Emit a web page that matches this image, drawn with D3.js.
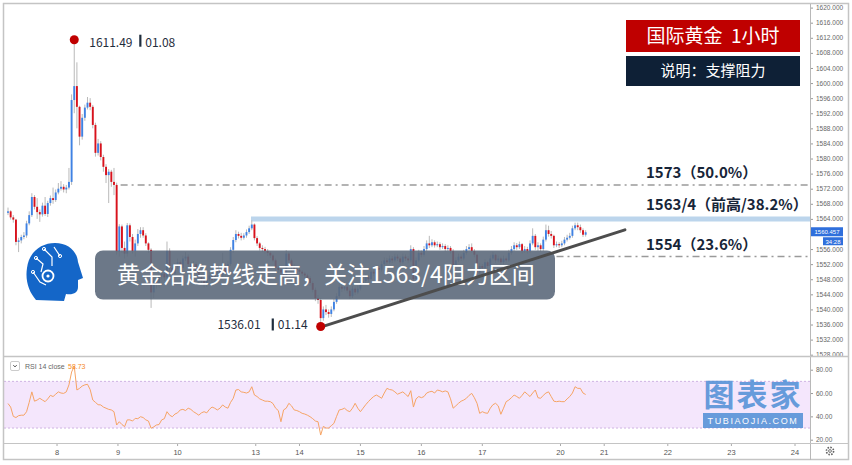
<!DOCTYPE html>
<html><head><meta charset="utf-8">
<script src="https://cdn.jsdelivr.net/npm/d3@7"></script>
<style>
html,body{margin:0;padding:0;background:#fff;}
svg{display:block;}
</style></head>
<body>
<svg id="c" width="852" height="465"></svg>
<script>
// ---------------- DATA ----------------
const dayLabels = ["8","9","10","13","14","15","16","17","20","21","22","23","24"];
const dayIndex  = [18.5,41.5,64,93.5,110,133,156,179,208.5,225,249,273,297];
const priceTicks = [1528,1532,1536,1540,1544,1548,1552,1556,1560,1564,1568,1572,1576,1580,1584,1588,1592,1596,1600,1604,1608,1612,1616,1620];
const rsiTicks = [20,40,60,80];
const firstOpen = 1565.6;
const closes = [
1566.0,1564.4,1563.8,1557.9,1558.3,1559.2,1559.6,1562.8,1565.0,1569.8,
1567.2,1565.8,1565.2,1567.5,1565.3,1568.2,1569.5,1569.0,1571.0,1572.0,
1572.5,1571.8,1572.3,1573.8,1595.5,1599.2,1593.7,1585.8,1590.8,1593.5,
1594.8,1593.7,1588.9,1581.5,1584.0,1580.4,1577.8,1575.6,1576.5,1573.8,
1573.0,1555.4,1562.0,1556.3,1554.8,1562.3,1559.2,1555.5,1557.5,1560.0,
1561.0,1559.6,1557.5,1555.8,1544.5,1547.5,1546.5,1549.0,1549.5,1548.5,
1555.5,1551.0,1549.5,1551.5,1552.5,1551.0,1553.5,1554.0,1552.0,1550.5,
1552.0,1550.0,1548.5,1547.5,1546.5,1548.0,1549.0,1547.8,1549.5,1550.5,
1549.0,1551.5,1549.5,1552.0,1555.8,1558.4,1560.0,1559.5,1559.0,1559.6,
1560.5,1561.5,1562.5,1558.9,1557.5,1556.3,1556.0,1555.5,1555.0,1554.3,
1553.0,1551.0,1550.5,1549.8,1549.0,1554.8,1553.0,1551.5,1550.8,1550.5,
1550.0,1549.5,1549.0,1548.3,1547.0,1545.2,1543.0,1542.5,1537.7,1540.0,
1539.3,1538.8,1540.0,1542.0,1543.5,1546.0,1545.5,1546.0,1545.0,1543.5,
1545.5,1544.5,1545.5,1547.0,1547.5,1548.5,1548.0,1550.0,1549.5,1551.0,
1550.5,1552.0,1553.0,1552.5,1553.5,1553.0,1554.0,1553.5,1552.5,1554.0,
1553.5,1553.0,1556.0,1548.0,1553.0,1555.0,1554.5,1556.0,1557.5,1557.0,
1557.8,1557.0,1557.3,1556.5,1556.8,1556.0,1556.3,1555.5,1551.7,1553.0,
1554.0,1553.5,1555.0,1556.0,1556.5,1555.5,1554.5,1549.8,1551.5,1551.0,
1552.5,1551.5,1553.5,1554.5,1553.0,1553.5,1552.5,1553.5,1553.0,1555.0,
1556.0,1557.0,1556.5,1557.3,1555.5,1556.0,1555.5,1557.5,1559.5,1556.5,
1557.0,1556.0,1558.5,1561.0,1560.0,1559.5,1557.0,1557.3,1557.0,1557.5,
1558.5,1559.0,1559.5,1561.5,1562.3,1561.8,1561.0,1559.8,1560.457];
const highs = [
1567.0,1566.3,1565.0,1564.0,1559.0,1559.8,1560.5,1563.5,1566.0,1570.8,
1570.3,1569.5,1566.5,1568.3,1569.8,1568.8,1570.2,1572.3,1571.8,1573.5,
1574.0,1573.2,1573.0,1577.5,1597.0,1611.49,1605.5,1594.0,1591.8,1594.3,
1596.3,1596.0,1594.2,1589.5,1585.2,1584.6,1581.0,1578.5,1577.2,1577.0,
1577.5,1573.6,1562.6,1562.5,1558.0,1562.9,1562.8,1560.0,1558.5,1561.3,
1561.8,1561.8,1560.2,1557.8,1556.2,1548.3,1548.0,1549.8,1550.3,1550.5,
1558.0,1556.2,1551.8,1552.3,1553.5,1553.0,1554.3,1555.2,1554.6,1552.6,
1552.8,1552.5,1550.6,1549.0,1548.2,1548.8,1549.9,1549.6,1550.3,1551.3,
1551.0,1555.0,1552.3,1552.8,1556.5,1559.2,1561.0,1560.6,1560.3,1560.2,
1561.2,1562.2,1563.6,1562.8,1559.4,1557.9,1557.0,1556.6,1556.0,1555.4,
1554.8,1553.5,1551.6,1551.0,1550.6,1555.7,1555.3,1553.5,1552.0,1551.4,
1551.0,1550.5,1550.0,1549.5,1548.8,1547.5,1545.8,1543.8,1543.0,1540.8,
1541.2,1540.0,1540.8,1542.8,1544.3,1547.0,1546.8,1547.3,1546.5,1545.6,
1546.2,1546.0,1546.3,1547.8,1548.5,1549.3,1549.2,1550.8,1550.6,1551.8,
1551.6,1552.8,1553.8,1553.7,1554.3,1554.2,1554.8,1554.6,1554.0,1554.8,
1554.6,1554.2,1557.0,1556.5,1553.8,1555.8,1555.6,1556.8,1558.3,1559.5,
1558.6,1558.3,1558.0,1557.8,1557.5,1557.3,1557.0,1556.8,1556.0,1553.8,
1554.8,1554.6,1555.8,1556.8,1557.3,1557.5,1556.0,1554.8,1552.3,1552.0,
1553.3,1552.8,1554.3,1555.3,1554.8,1554.3,1554.0,1554.3,1554.0,1555.8,
1556.8,1557.8,1557.6,1558.0,1557.6,1556.8,1556.6,1558.3,1561.5,1560.0,
1557.8,1557.5,1559.3,1562.5,1562.2,1560.8,1559.8,1558.0,1557.8,1558.2,
1559.2,1559.8,1560.3,1562.2,1563.0,1563.0,1562.5,1561.5,1561.0];
const lows = [
1565.0,1563.8,1563.0,1557.0,1555.2,1557.5,1558.6,1559.0,1562.3,1564.5,
1566.5,1564.0,1563.2,1564.6,1564.8,1564.5,1567.5,1568.0,1568.5,1570.5,
1571.5,1571.0,1570.8,1571.8,1573.0,1592.0,1588.0,1583.5,1585.0,1590.0,
1593.0,1592.8,1588.0,1580.5,1580.8,1579.5,1576.5,1573.5,1568.2,1572.5,
1570.3,1554.5,1554.0,1555.0,1553.5,1554.0,1558.0,1554.8,1554.0,1556.8,
1559.0,1559.0,1556.8,1555.0,1540.4,1543.0,1545.5,1545.8,1548.0,1547.5,
1548.0,1550.0,1548.5,1548.8,1550.8,1550.2,1550.5,1552.8,1551.2,1549.8,
1549.8,1549.2,1547.8,1546.5,1545.8,1545.9,1547.5,1547.0,1547.2,1549.0,
1548.3,1548.5,1548.8,1549.0,1551.5,1555.0,1557.8,1558.8,1558.3,1558.5,
1559.0,1560.0,1561.0,1558.3,1556.8,1555.6,1555.2,1554.8,1554.2,1553.6,
1552.5,1550.2,1549.6,1548.9,1548.2,1548.6,1552.2,1550.6,1550.0,1549.7,
1549.3,1548.8,1548.3,1547.6,1546.3,1544.5,1542.2,1541.5,1536.01,1537.0,
1538.5,1537.8,1538.0,1539.5,1541.5,1543.0,1544.6,1545.0,1544.2,1542.8,
1543.0,1543.8,1544.0,1545.0,1546.5,1547.0,1547.2,1547.6,1548.8,1549.0,
1549.8,1550.0,1551.5,1551.8,1552.0,1552.3,1552.5,1552.8,1551.8,1552.0,
1552.8,1552.2,1552.5,1547.0,1547.5,1552.5,1553.8,1554.0,1555.5,1556.3,
1556.5,1556.4,1556.5,1555.8,1556.0,1555.3,1555.5,1554.8,1551.0,1551.2,
1552.5,1552.8,1553.0,1554.5,1555.5,1555.0,1553.8,1549.0,1549.2,1550.3,
1550.5,1550.8,1551.0,1553.0,1552.3,1552.5,1551.8,1552.0,1552.3,1552.6,
1554.5,1555.5,1555.8,1556.0,1554.8,1555.0,1554.8,1555.0,1557.0,1555.8,
1555.5,1555.3,1555.5,1558.0,1559.3,1558.8,1556.3,1556.5,1556.3,1556.5,
1557.0,1558.0,1558.5,1559.0,1561.0,1561.0,1560.3,1559.2,1559.3];
const rsi = [
51,48,40,39,40.6,41,41,44,52,61,
53,54,55.5,54,52.6,55,58,57,59,61,
60,59.7,61,67,78,83,62.6,64,66,67,
67.5,63,54,52,50,49.8,48,47,46,45.5,
44,32.6,35.4,33,31.2,37,37,36,38.3,38,
39.7,39,37,36,29.8,31,32.6,33,37,38,
44,41,39.7,42,43,45.5,46,45,47,46,
44,42.6,41,43,44,43,46,48,47,45.5,
47,49.8,48,47,52,55.5,62.6,63,61,60.6,
60,61,65.4,58.3,57,55,54,53,53,52.6,
51,47,45,35.4,45.5,47,51.2,49,45.5,45,
44,42.6,42,41,39.7,38,36,35.4,24,31.4,
30,30,32,34,40,45.5,46,47,45,44,
47,51.2,47,44,47,50,52.6,55,57,58.3,
57,55.5,60,64,63,62.6,61,59,60,61,
59,57,62,48,55,57,56,57,60,61,
61.5,60,62.6,62,61,61.8,61,55,47,49,
51.2,53,54,55.5,58,59.7,56,51.2,42.6,44,
43,42.6,47,50,51.2,49,41.8,47,52.6,54,
56,58.3,57,55.5,58,61,59,57,60,62.6,
56,55.5,58,60,61,57,53,52.6,53,52.6,
52.6,55,57,60,65.4,64,64,60,58.73];
const levelPrices = [1573, 1554];
const levelStartIdx = [42.5, 207];
const levelTexts = ["1573（50.0%）", "1554（23.6%）"];
const resistancePrice = 1564;
const resistanceStartIdx = 91.7;
const resistanceText = "1563/4（前高/38.2%）";
const trendIdx = [118, 232.8];
const trendPrice = [1535.3, 1561.1];
const markerIdx = [25, 118];
const markerPrice = [1611.49, 1536.01];
const markerDate = ["01.08", "01.14"];
const lastPrice = 1560.457;
const countdown = "34:28";
const titleText = "国际黄金  1小时";
const subtitleText = "说明：支撑阻力";
const noteText = "黄金沿趋势线走高，关注1563/4阻力区间";

// ---------------- DRAW ----------------
const svg = d3.select("#c");
const W = 852, H = 465;
const axisX = 810, mainBottom = 356, rsiBottom = 443;
const x = d3.scaleLinear().domain([0, 297]).range([8, 795]);
const y = d3.scaleLinear().domain([1528, 1616]).range([354.7, 22.7]);
const yr = d3.scaleLinear().domain([20, 80]).range([439.7, 369.7]);
const CJK = "'Noto Sans CJK SC','Noto Sans',sans-serif";
const AX = "'Liberation Sans','DejaVu Sans',sans-serif";

svg.append("rect").attr("width", W).attr("height", H).attr("fill", "#fff");
const defs = svg.append("defs");
defs.append("clipPath").attr("id", "mainClip").append("rect")
  .attr("x", 4).attr("y", 4).attr("width", axisX - 4).attr("height", mainBottom - 4);
defs.append("clipPath").attr("id", "rsiClip").append("rect")
  .attr("x", 4).attr("y", mainBottom + 1).attr("width", axisX - 4).attr("height", rsiBottom - mainBottom - 1);

const main = svg.append("g").attr("clip-path", "url(#mainClip)");

// resistance band
main.append("line")
  .attr("x1", x(resistanceStartIdx)).attr("x2", axisX)
  .attr("y1", y(resistancePrice)).attr("y2", y(resistancePrice))
  .attr("stroke", "#bcd5ec").attr("stroke-width", 5);

// level lines
main.selectAll("line.lvl").data(levelPrices).join("line").attr("class", "lvl")
  .attr("x1", (d, i) => x(levelStartIdx[i])).attr("x2", axisX)
  .attr("y1", d => y(d)).attr("y2", d => y(d))
  .attr("stroke", "#9a9a9a").attr("stroke-width", 1.5)
  .attr("stroke-dasharray", "7,4,2,4");

// candles
const candles = closes.map((c, i) => ({
  i, o: i === 0 ? firstOpen : closes[i - 1], c, h: highs[i], l: lows[i]
}));
const cg = main.append("g");
cg.selectAll("line.wick").data(candles).join("line").attr("class", "wick")
  .attr("x1", d => x(d.i)).attr("x2", d => x(d.i))
  .attr("y1", d => y(d.h)).attr("y2", d => y(d.l))
  .attr("stroke", "#b9b9b9").attr("stroke-width", 1);
cg.selectAll("rect.body").data(candles).join("rect").attr("class", "body")
  .attr("x", d => x(d.i) - 0.95).attr("width", 1.9)
  .attr("y", d => y(Math.max(d.o, d.c)))
  .attr("height", d => Math.max(1, Math.abs(y(d.o) - y(d.c))))
  .attr("fill", d => d.c >= d.o ? "#3f82e4" : "#d9121c");

// overlay note box
main.append("rect")
  .attr("x", 95).attr("y", 250.5).attr("width", 460).attr("height", 49).attr("rx", 8)
  .attr("fill", "#5c697b").attr("opacity", 0.9);
main.append("text").attr("x", 117).attr("y", 283)
  .attr("font-family", CJK).attr("font-size", 23).attr("fill", "#fff")
  .text(noteText);

// trendline
main.append("line")
  .attr("x1", x(trendIdx[0])).attr("y1", y(trendPrice[0]))
  .attr("x2", x(trendIdx[1])).attr("y2", y(trendPrice[1]))
  .attr("stroke", "#4d4d4d").attr("stroke-width", 3).attr("stroke-linecap", "round");

// markers
main.selectAll("circle.mk").data(markerIdx).join("circle").attr("class", "mk")
  .attr("cx", d => x(d)).attr("cy", (d, i) => y(markerPrice[i]) + (i === 1 ? 2 : 0)).attr("r", 4.5)
  .attr("fill", "#c00000");
function markerLabel(i, anchorRight) {
  const cx = x(markerIdx[i]), cy = y(markerPrice[i]) + (i === 1 ? 2 : 0);
  const g = main.append("g").attr("font-family", CJK).attr("font-size", 12).attr("fill", "#1f2d3d");
  const priceStr = markerPrice[i].toFixed(2);
  if (anchorRight) {
    g.append("text").attr("x", cx + 15).attr("y", cy + 7).text(priceStr);
    g.append("rect").attr("x", cx + 65).attr("y", cy - 5).attr("width", 2.2).attr("height", 12);
    g.append("text").attr("x", cx + 71).attr("y", cy + 7).text(markerDate[i]);
  } else {
    g.append("text").attr("x", cx - 13).attr("y", cy + 3).attr("text-anchor", "end").text(markerDate[i]);
    g.append("rect").attr("x", cx - 49).attr("y", cy - 8).attr("width", 2.2).attr("height", 12);
    g.append("text").attr("x", cx - 60).attr("y", cy + 3).attr("text-anchor", "end").text(priceStr);
  }
}
markerLabel(0, true);
markerLabel(1, false);

// level labels
const lblG = svg.append("g").attr("font-family", CJK).attr("font-size", 15).attr("font-weight", "bold").attr("fill", "#172538");
lblG.append("text").attr("x", 646).attr("y", y(levelPrices[0]) - 7).text(levelTexts[0]);
lblG.append("text").attr("x", 646).attr("y", y(resistancePrice) - 9).text(resistanceText);
lblG.append("text").attr("x", 646).attr("y", y(levelPrices[1]) - 7).text(levelTexts[1]);

// title boxes
svg.append("rect").attr("x", 626).attr("y", 20).attr("width", 174).attr("height", 32).attr("fill", "#bf0000");
svg.append("text").attr("x", 713).attr("y", 43).attr("text-anchor", "middle")
  .attr("font-family", CJK).attr("font-size", 19).attr("fill", "#fff").style("white-space", "pre")
  .text(titleText);
svg.append("rect").attr("x", 626).attr("y", 56).attr("width", 174).attr("height", 30).attr("fill", "#0e2036");
svg.append("text").attr("x", 713).attr("y", 76).attr("text-anchor", "middle")
  .attr("font-family", CJK).attr("font-size", 15).attr("fill", "#fff")
  .text(subtitleText);

// logo head
const logo = svg.append("g");
logo.append("path")
  .attr("d", "M36,300 C29,292 25,281 27,268 C29,252 41,243 55,243 C68,243 77,251 78,262 L83,278 L78,280 L78,287 C78,293 73,295 66,294 L64,301 Z")
  .attr("fill", "#1466c8");
logo.append("circle").attr("cx", 48).attr("cy", 276).attr("r", 5.5).attr("fill", "none").attr("stroke", "#fff").attr("stroke-width", 1.8);
logo.append("circle").attr("cx", 48).attr("cy", 276).attr("r", 1.6).attr("fill", "#fff");
logo.append("path").attr("d", "M44,249 L52,257 L52,266 M36,258 L43,264 L41,272 M33,272 L40,282 L46,285 M54,247 L60,256")
  .attr("fill", "none").attr("stroke", "#fff").attr("stroke-width", 1.2);
logo.selectAll("circle.n").data([[44,249],[36,258],[33,272],[60,256]]).join("circle").attr("class","n")
  .attr("cx", d => d[0]).attr("cy", d => d[1]).attr("r", 1.6).attr("fill", "none").attr("stroke", "#fff").attr("stroke-width", 1);

// ---------- RSI panel ----------
const rsiG = svg.append("g").attr("clip-path", "url(#rsiClip)");
rsiG.append("rect").attr("x", 4).attr("width", axisX - 4)
  .attr("y", yr(70)).attr("height", yr(30) - yr(70)).attr("fill", "#f4e6fc");
rsiG.selectAll("line.rb").data([70, 30]).join("line").attr("class", "rb")
  .attr("x1", 4).attr("x2", axisX).attr("y1", d => yr(d)).attr("y2", d => yr(d))
  .attr("stroke", "#cfb3e3").attr("stroke-dasharray", "2,2");
rsiG.append("path").datum(rsi)
  .attr("d", d3.line().x((d, i) => x(i)).y(d => yr(d)))
  .attr("fill", "none").attr("stroke", "#f6a465").attr("stroke-width", 1);

// RSI header
svg.append("rect").attr("x", 10.5).attr("y", 361.5).attr("width", 9).attr("height", 9).attr("rx", 1.5)
  .attr("fill", "#fff").attr("stroke", "#cccccc");
svg.append("path").attr("d", "M13.2,365 L15,367 L16.8,365").attr("fill", "none").attr("stroke", "#555").attr("stroke-width", 0.9);
svg.append("text").attr("x", 25).attr("y", 369).attr("font-family", AX).attr("font-size", 7).attr("fill", "#666").text("RSI 14 close");
svg.append("text").attr("x", 68).attr("y", 369).attr("font-family", AX).attr("font-size", 7).attr("fill", "#f58a1f").text(rsi[rsi.length - 1].toFixed(2));

// watermark
const wm = svg.append("g").attr("opacity", 0.85);
wm.append("text").attr("x", 753).attr("y", 406).attr("text-anchor", "middle")
  .attr("font-family", CJK).attr("font-size", 31).attr("font-weight", "bold").attr("fill", "#4f8fd6")
  .attr("letter-spacing", 2).text("图表家");
wm.append("rect").attr("x", 703).attr("y", 413).attr("width", 100).attr("height", 15).attr("fill", "#4f8fd6");
wm.append("text").attr("x", 753).attr("y", 424).attr("text-anchor", "middle")
  .attr("font-family", AX).attr("font-size", 9).attr("fill", "#fff").attr("letter-spacing", 1.6)
  .text("TUBIAOJIA.COM");

// ---------- axes ----------
const yl = y(lastPrice);
const pAxis = d3.axisRight(y).tickValues(priceTicks).tickSize(3).tickPadding(3).tickFormat(d3.format(".3f"));
const pa = svg.append("g").attr("transform", `translate(${axisX},0)`).call(pAxis);
pa.select(".domain").remove();
pa.selectAll("text").attr("font-family", AX).attr("font-size", 6.5).attr("fill", "#666");
pa.selectAll("line").attr("stroke", "#999");
pa.selectAll(".tick").filter(d => y(d) > mainBottom - 1).remove();
// the last-price tag covers the tick label beneath it
pa.selectAll(".tick").filter(d => Math.abs(y(d) - yl) < 6).select("text").remove();

const rAxis = d3.axisRight(yr).tickValues(rsiTicks).tickSize(3).tickPadding(3).tickFormat(d3.format(".2f"));
const ra = svg.append("g").attr("transform", `translate(${axisX},0)`).call(rAxis);
ra.select(".domain").remove();
ra.selectAll("text").attr("font-family", AX).attr("font-size", 6.5).attr("fill", "#666");
ra.selectAll("line").attr("stroke", "#999");

// current price tag
svg.append("rect").attr("x", axisX + 1).attr("y", yl - 5).attr("width", 32).attr("height", 9).attr("fill", "#2f6fdc");
svg.append("text").attr("x", axisX + 17).attr("y", yl + 1.8).attr("text-anchor", "middle")
  .attr("font-family", AX).attr("font-size", 6).attr("fill", "#fff").text(lastPrice.toFixed(3));
svg.append("rect").attr("x", axisX + 13).attr("y", yl + 5).attr("width", 20).attr("height", 8).attr("fill", "#2f6fdc");
svg.append("text").attr("x", axisX + 23).attr("y", yl + 11.5).attr("text-anchor", "middle")
  .attr("font-family", AX).attr("font-size", 6).attr("fill", "#fff").text(countdown);

// time axis
const tg = svg.append("g");
tg.selectAll("text").data(dayLabels).join("text")
  .attr("x", (d, i) => x(dayIndex[i])).attr("y", 455).attr("text-anchor", "middle")
  .attr("font-family", AX).attr("font-size", 7.5).attr("fill", "#555").text(d => d);
tg.selectAll("line").data(dayLabels).join("line")
  .attr("x1", (d, i) => x(dayIndex[i])).attr("x2", (d, i) => x(dayIndex[i]))
  .attr("y1", rsiBottom).attr("y2", rsiBottom + 3).attr("stroke", "#aaa");

// gear icon
const gear = svg.append("g").attr("transform", "translate(830,451)");
gear.append("circle").attr("r", 3.6).attr("fill", "none").attr("stroke", "#666").attr("stroke-width", 1.6).attr("stroke-dasharray", "1.6,1.2");
gear.append("circle").attr("r", 1.4).attr("fill", "none").attr("stroke", "#666").attr("stroke-width", 0.9);

// frame & separators
const fr = svg.append("g").attr("stroke", "#c4c4c4").attr("fill", "none");
fr.append("rect").attr("x", 3.5).attr("y", 3.5).attr("width", 845).attr("height", 456).attr("stroke-width", 1.5);
fr.append("line").attr("x1", axisX + 0.5).attr("x2", axisX + 0.5).attr("y1", 4).attr("y2", 460).attr("stroke", "#b8b8b8");
fr.append("line").attr("x1", 4).attr("x2", 848).attr("y1", mainBottom + 0.5).attr("y2", mainBottom + 0.5).attr("stroke-width", 1.5);
fr.append("line").attr("x1", 4).attr("x2", 848).attr("y1", rsiBottom + 0.5).attr("y2", rsiBottom + 0.5).attr("stroke-width", 1.2);
</script>
</body></html>
